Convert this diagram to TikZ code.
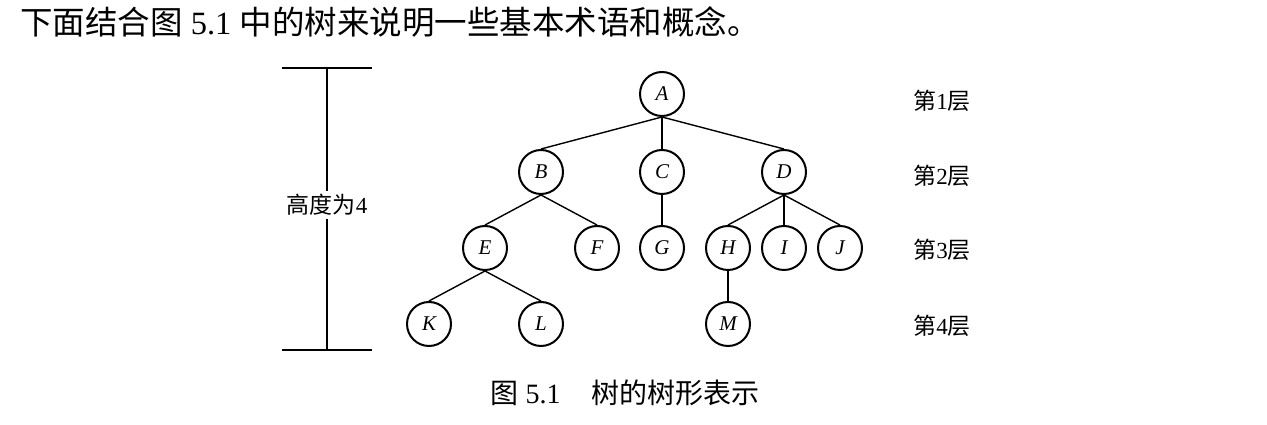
\documentclass[tikz,border=0pt]{standalone}
\usepackage{fontspec}
\setmainfont{Liberation Serif}
\newfontfamily\cjk{Noto Sans CJK SC}
\usepackage{tikz}
\newcommand{\zh}[1]{{\cjk #1}}

\begin{document}
\begin{tikzpicture}[
  x=1pt,y=1pt,
  vertex/.style={circle,draw=black,line width=2pt,minimum size=44pt,inner sep=0pt,font=\fontsize{21}{21}\selectfont\itshape},
  edge/.style={line width=1.4pt,draw=black},
  level/.style={font=\fontsize{23}{23}\selectfont},
  rule/.style={line width=1.4pt,draw=black}
]
\useasboundingbox (0,0) rectangle (1267,425);
\node[anchor=west,inner sep=0pt,font=\fontsize{32.5}{32.5}\selectfont] (intro) at (20,403) {\zh{下面结合图} 5.1 \zh{中的树来说明一些基本术语和概念。}};
% the tree
\node[vertex] (A) at (662,331) {A};
\node[vertex] (B) at (541,253) {B};
\node[vertex] (C) at (662,253) {C};
\node[vertex] (D) at (784,253) {D};
\node[vertex] (E) at (485,177) {E};
\node[vertex] (F) at (597,177) {F};
\node[vertex] (G) at (662,177) {G};
\node[vertex] (H) at (728,177) {H};
\node[vertex] (I) at (784,177) {I};
\node[vertex] (J) at (840,177) {J};
\node[vertex] (K) at (429,101) {K};
\node[vertex] (L) at (541,101) {L};
\node[vertex] (M) at (728,101) {M};
\draw[edge] (A.south) -- (B.north);
\draw[edge] (A.south) -- (C.north);
\draw[edge] (A.south) -- (D.north);
\draw[edge] (B.south) -- (E.north);
\draw[edge] (B.south) -- (F.north);
\draw[edge] (C.south) -- (G.north);
\draw[edge] (D.south) -- (H.north);
\draw[edge] (D.south) -- (I.north);
\draw[edge] (D.south) -- (J.north);
\draw[edge] (E.south) -- (K.north);
\draw[edge] (E.south) -- (L.north);
\draw[edge] (H.south) -- (M.north);
% height bracket
\coordinate (htop) at (327,357);
\coordinate (hbot) at (327,75);
\node[level,inner sep=3pt] (hlab) at (327,220) {\zh{高度为}4};
\draw[rule] ([xshift=-45pt]htop) -- ([xshift=45pt]htop);
\draw[rule] ([xshift=-45pt]hbot) -- ([xshift=45pt]hbot);
\draw[rule] (htop) -- (hlab) -- (hbot);
% levels
\node[level] (lv1) at (942,324) {\zh{第}1\zh{层}};
\node[level] (lv2) at (942,249) {\zh{第}2\zh{层}};
\node[level] (lv3) at (942,175) {\zh{第}3\zh{层}};
\node[level] (lv4) at (942,99) {\zh{第}4\zh{层}};
\node[font=\fontsize{28}{28}\selectfont] (cap) at (625,32) {\zh{图} 5.1\hspace{1.1em}\zh{树的树形表示}};
\end{tikzpicture}
\end{document}
